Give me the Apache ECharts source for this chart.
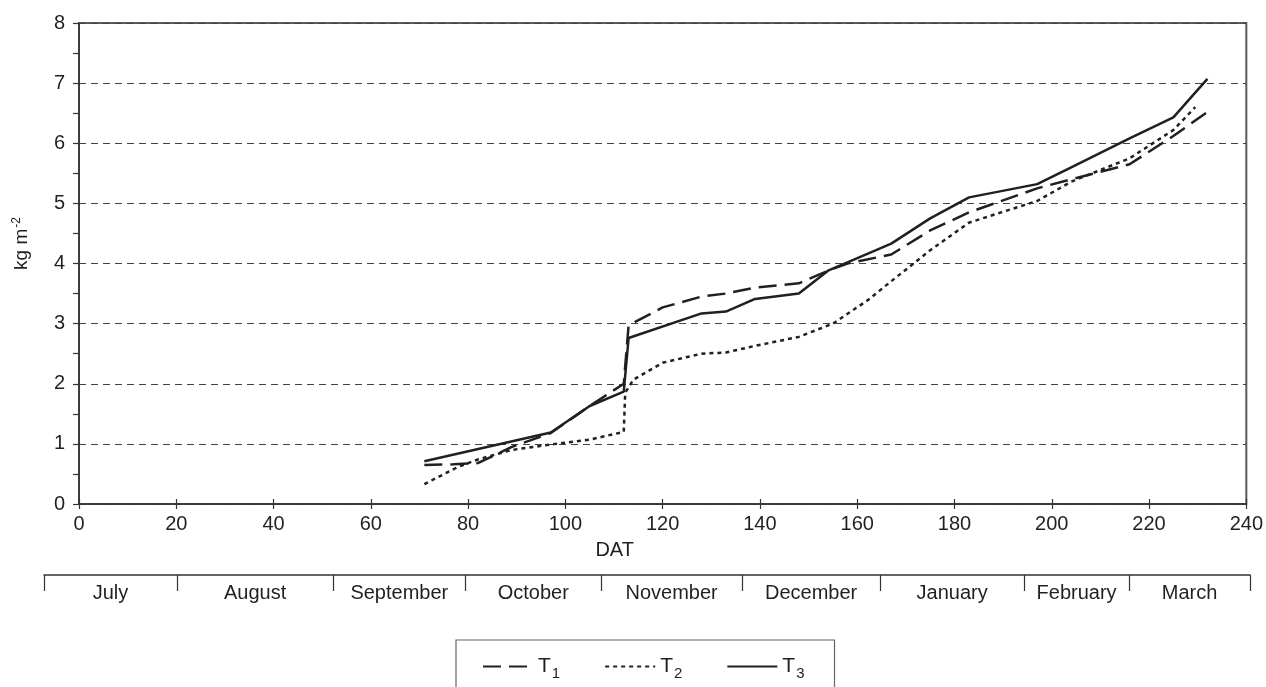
<!DOCTYPE html>
<html>
<head>
<meta charset="utf-8">
<script src="https://cdn.jsdelivr.net/npm/echarts@6/dist/echarts.min.js"></script>
<style>
  html, body { margin: 0; padding: 0; background: #fff; }
  #chart { width: 1266px; height: 687px; }
</style>
</head>
<body>
<div id="chart"></div>
<script>
const seriesNames = ['T1', 'T2', 'T3'];

const t1Days = [71, 77, 82, 89, 97, 105, 112, 113, 120, 128, 133, 139, 148, 154, 158, 167, 175, 183, 197, 204, 216, 225, 232];
const t1Values = [0.65, 0.66, 0.68, 0.95, 1.18, 1.63, 2.0, 2.97, 3.27, 3.45, 3.5, 3.6, 3.67, 3.88, 4.0, 4.15, 4.55, 4.85, 5.25, 5.4, 5.65, 6.12, 6.52];

const t2Days = [71, 78, 82, 89, 98, 105, 112, 112.3, 114, 120, 128, 133, 139, 148, 155, 162, 168, 175, 183, 197, 204, 216, 225, 229.5];
const t2Values = [0.33, 0.62, 0.74, 0.9, 1.0, 1.07, 1.2, 1.85, 2.07, 2.35, 2.5, 2.52, 2.63, 2.78, 3.0, 3.38, 3.77, 4.22, 4.68, 5.04, 5.36, 5.75, 6.22, 6.6];

const t3Days = [71, 97, 105, 112, 113, 128, 133, 139, 148, 154, 158, 167, 175, 183, 197, 204, 216, 225, 232];
const t3Values = [0.71, 1.19, 1.63, 1.87, 2.76, 3.17, 3.2, 3.41, 3.5, 3.88, 4.02, 4.33, 4.75, 5.1, 5.32, 5.6, 6.08, 6.43, 7.07];

// month bracket below the DAT axis, boundaries in DAT units
const months = ['July', 'August', 'September', 'October', 'November', 'December', 'January', 'February', 'March'];
const monthEdges = [-7.2, 20.1, 52.2, 79.3, 107.2, 136.1, 164.5, 194, 215.6, 240.4];
const monthMids = months.map((m, i) => (monthEdges[i] + monthEdges[i + 1]) / 2);

const ink = '#231f20';
const font = 'Liberation Sans, Arial, sans-serif';

const pairs = (xs, ys) => xs.map((x, i) => [x, ys[i]]);

const chart = echarts.init(document.getElementById('chart'));

const lineSeries = (name, days, values, dash) => ({
  name: name,
  type: 'line',
  xAxisIndex: 0,
  yAxisIndex: 0,
  symbol: 'none',
  data: pairs(days, values),
  lineStyle: { color: ink, width: 2.5, type: dash },
  itemStyle: { color: ink },
  emphasis: { disabled: true },
  z: 5
});

chart.setOption({
  animation: false,
  textStyle: { fontFamily: font, color: ink },
  grid: [
    { left: 79, right: 18, top: 23, bottom: 183, show: true, borderColor: '#5a5a5a', borderWidth: 2, backgroundColor: 'transparent' },
    { left: 44, right: 16, top: 574, height: 1 }
  ],
  xAxis: [
    {
      type: 'value', gridIndex: 0, min: 0, max: 240, interval: 20, position: 'bottom',
      name: 'DAT', nameLocation: 'middle', nameGap: 36,
      nameTextStyle: { fontSize: 20, color: ink, padding: [0, 96, 0, 0] },
      axisLine: { show: true, lineStyle: { color: '#333', width: 1.5 } },
      axisTick: { show: true, length: 5, lineStyle: { color: '#333', width: 1.2 } },
      axisLabel: { fontSize: 20, color: ink, margin: 10 },
      splitLine: { show: false }
    },
    {
      type: 'value', gridIndex: 0, min: 0, max: 240, interval: 20, position: 'bottom',
      axisLine: { show: false },
      axisTick: { show: true, inside: true, length: 5, lineStyle: { color: '#333', width: 1.2 } },
      axisLabel: { show: false },
      splitLine: { show: false }
    },
    {
      type: 'value', gridIndex: 1, min: monthEdges[0], max: monthEdges[monthEdges.length - 1], position: 'bottom',
      axisLine: { show: true, lineStyle: { color: '#333', width: 1.5 } },
      axisTick: { show: true, length: 16, customValues: monthEdges, lineStyle: { color: '#333', width: 1.2 } },
      axisLabel: {
        fontSize: 20, color: ink, margin: 8, customValues: monthMids,
        formatter: v => {
          let best = 0;
          monthMids.forEach((m, i) => { if (Math.abs(m - v) < Math.abs(monthMids[best] - v)) best = i; });
          return months[best];
        }
      },
      splitLine: { show: false }
    }
  ],
  yAxis: [
    {
      type: 'value', gridIndex: 0, min: 0, max: 8, interval: 1,
      name: 'kg m{sup|-2}', nameLocation: 'middle', nameGap: 47, nameRotate: 90,
      nameTextStyle: {
        fontSize: 19, color: ink, padding: [0, 0, 0, 40],
        rich: { sup: { fontSize: 12, color: ink, padding: [0, 0, 9, 1] } }
      },
      axisLine: { show: true, lineStyle: { color: '#333', width: 1.5 } },
      axisTick: { show: true, length: 6, lineStyle: { color: '#333', width: 1.2 } },
      minorTick: { show: true, splitNumber: 2, length: 6, lineStyle: { color: '#333', width: 1.2 } },
      axisLabel: { fontSize: 20, color: ink, margin: 14 },
      splitLine: { show: true, lineStyle: { color: '#444', width: 1, type: [7, 5] } }
    },
    { type: 'value', gridIndex: 1, min: 0, max: 1, show: false }
  ],
  legend: {
    data: seriesNames,
    left: 456, top: 640,
    padding: [16, 30, 30, 26],
    itemWidth: 50, itemHeight: 14, itemGap: 44,
    itemStyle: { opacity: 0 },
    borderColor: '#666', borderWidth: 1.2, borderRadius: 0,
    formatter: name => 'T{s|' + name.slice(1) + '}',
    textStyle: {
      fontSize: 21, color: ink, fontFamily: font,
      rich: { s: { fontSize: 15, color: ink, fontFamily: font, padding: [14, 0, 0, 1] } }
    },
    selectedMode: false
  },
  series: [
    lineSeries('T1', t1Days, t1Values, [18, 8]),
    lineSeries('T2', t2Days, t2Values, [4, 4]),
    lineSeries('T3', t3Days, t3Values, 'solid')
  ]
});
</script>
</body>
</html>
